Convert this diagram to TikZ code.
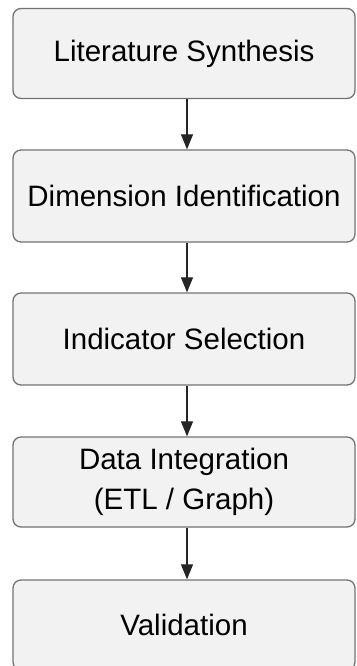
\documentclass[tikz,border=0pt]{standalone}
\usepackage{fontspec}
\setmainfont{Liberation Sans}
\usetikzlibrary{arrows.meta}
\begin{document}
\begin{tikzpicture}[x=1pt,y=-1pt,
  stepbox/.style={draw=black!55, line width=1.3pt, fill=black!5, rounded corners=8pt,
    minimum width=342pt, inner sep=0pt, align=center,
    font=\fontsize{29.5}{40}\selectfont},
  flow/.style={draw=black!85, line width=1.1pt, -{Triangle[length=15pt,width=12pt]}}]
  \useasboundingbox (0,0) rectangle (356,666);
  \node[stepbox, minimum height=90pt] (lit) at (184,53.5) {Literature Synthesis};
  \node[stepbox, minimum height=92pt] (dim) at (184,196) {Dimension Identification};
  \node[stepbox, minimum height=92pt] (ind) at (184,339) {Indicator Selection};
  \node[stepbox, minimum height=90pt] (data) at (184,482) {Data Integration\\(ETL / Graph)};
  \node[stepbox, minimum height=90pt] (val) at (184,625) {Validation};
  \draw[flow] (lit.south -| 187,0) -- (dim.north -| 187,0);
  \draw[flow] (dim.south -| 187,0) -- (ind.north -| 187,0);
  \draw[flow] (ind.south -| 187,0) -- (data.north -| 187,0);
  \draw[flow] (data.south -| 187,0) -- (val.north -| 187,0);
\end{tikzpicture}
\end{document}
